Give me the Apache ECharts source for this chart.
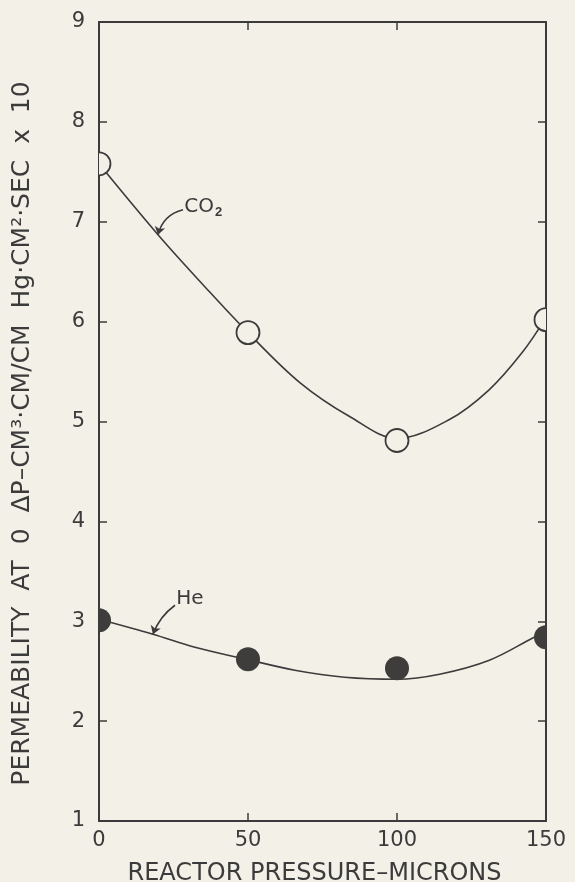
<!DOCTYPE html>
<html>
<head>
<meta charset="utf-8">
<script src="https://cdn.jsdelivr.net/npm/echarts@6/dist/echarts.min.js"></script>
<style>
  html, body { margin: 0; padding: 0; background: #f3f0e7; }
  #chart { width: 575px; height: 882px; }
</style>
</head>
<body>
<div id="chart"></div>
<script>
// Measured permeability at each reactor pressure (microns)
const pressure = [0, 50, 100, 150];
const co2Values = [7.58, 5.89, 4.81, 6.02];
const heValues = [3.01, 2.62, 2.53, 2.84];

// Hand-drawn fitted curves
const co2CurveX = [0, 19.8, 35.5, 50, 67.4, 84.1, 100, 117.6, 131, 142, 150];
const co2CurveY = [7.58, 6.87, 6.35, 5.89, 5.39, 5.05, 4.83, 5.02, 5.32, 5.69, 6.04];
const heCurveX = [0, 18.1, 32.2, 49.3, 65.7, 82.4, 100, 114.3, 131, 145.4, 150];
const heCurveY = [3.02, 2.87, 2.74, 2.62, 2.51, 2.44, 2.42, 2.47, 2.61, 2.83, 2.90];

// Axis ticks
const xTicks = [0, 50, 100, 150];
const yTicks = [1, 2, 3, 4, 5, 6, 7, 8, 9];

// Curve labels: text anchor and arrow (start -> tip) in data units
const co2Label = { text: 'CO{sub|2}', at: [28.6, 7.15], arrow: [[28.2, 7.12], [19.8, 6.87]] };
const heLabel = { text: 'He', at: [25.9, 3.22], arrow: [[25.5, 3.16], [18.1, 2.87]] };

const ink = '#3b3b3b';
const dot = '#3f3d3b';
const paper = '#f3f0e7';
const font = 'DejaVu Sans';

const zip = (xs, ys) => xs.map((x, i) => [x, ys[i]]);

const frameAxis = {
  axisLine: { show: true, onZero: false, lineStyle: { color: ink, width: 2 } },
  axisTick: { show: true, inside: true, length: 8, lineStyle: { color: ink, width: 1.5 } },
  splitLine: { show: false }
};

// Circle markers, cut off at the plot frame like the drawn originals
const markerSeries = (name, values, r, fill, stroke, lineWidth) => ({
  name, type: 'custom', data: zip(pressure, values), clip: true, z: 5,
  renderItem: (params, api) => {
    const p = api.coord([api.value(0), api.value(1)]);
    return {
      type: 'circle',
      shape: { cx: p[0], cy: p[1], r },
      style: { fill, stroke, lineWidth }
    };
  }
});

const chart = echarts.init(document.getElementById('chart'));
chart.setOption({
  backgroundColor: paper,
  animation: false,
  textStyle: { fontFamily: font, color: ink },
  grid: { left: 99, top: 22, right: 29, bottom: 61, containLabel: false, outerBoundsMode: 'none' },
  xAxis: [
    Object.assign({
      type: 'value', min: xTicks[0], max: xTicks[xTicks.length - 1], interval: 50,
      position: 'bottom',
      name: 'REACTOR PRESSURE\u2013MICRONS',
      nameLocation: 'middle', nameGap: 41,
      nameTextStyle: { fontSize: 24, color: ink, fontFamily: font, padding: [0, 16, 0, 0] },
      axisLabel: { fontSize: 21, color: ink, margin: 9, fontFamily: font }
    }, frameAxis),
    Object.assign({
      type: 'value', min: xTicks[0], max: xTicks[xTicks.length - 1], interval: 50,
      position: 'top', axisLabel: { show: false }
    }, frameAxis)
  ],
  yAxis: [
    Object.assign({
      type: 'value', min: yTicks[0], max: yTicks[yTicks.length - 1], interval: 1,
      position: 'left',
      name: 'PERMEABILITY  AT  0  \u0394P\u2013CM\u00B3\u00B7CM/CM  Hg\u00B7CM\u00B2\u00B7SEC  x  10',
      nameLocation: 'middle', nameGap: 64,
      nameTextStyle: { fontSize: 25, color: ink, fontFamily: font, padding: [0, 24, 0, 0] },
      axisLabel: { fontSize: 21, color: ink, margin: 14, fontFamily: font }
    }, frameAxis),
    Object.assign({
      type: 'value', min: yTicks[0], max: yTicks[yTicks.length - 1], interval: 1,
      position: 'right', axisLabel: { show: false }
    }, frameAxis)
  ],
  series: [
    {
      name: 'CO2 curve', type: 'line', data: zip(co2CurveX, co2CurveY),
      smooth: 0.35, showSymbol: false, z: 2,
      lineStyle: { color: ink, width: 1.6 }
    },
    {
      name: 'He curve', type: 'line', data: zip(heCurveX, heCurveY),
      smooth: 0.35, showSymbol: false, z: 2,
      lineStyle: { color: ink, width: 1.6 }
    },
    markerSeries('CO2', co2Values, 11.5, paper, ink, 1.8),
    markerSeries('He', heValues, 12, dot, null, 0),
    {
      name: 'arrows', type: 'lines', coordinateSystem: 'cartesian2d', z: 4,
      symbol: ['none', 'arrow'], symbolSize: [0, 8],
      lineStyle: { color: ink, width: 1.6, curveness: -0.3, opacity: 1 },
      data: [
        { coords: co2Label.arrow },
        { coords: heLabel.arrow, lineStyle: { curveness: -0.15 } }
      ]
    }
  ]
});

// Curve name tags, placed at their data-space anchors
const tag = (lbl) => {
  const [px, py] = chart.convertToPixel({ xAxisIndex: 0, yAxisIndex: 0 }, lbl.at);
  return {
    type: 'text', x: px, y: py, z: 10,
    style: {
      text: lbl.text, fill: ink, font: '20px "DejaVu Sans"',
      verticalAlign: 'middle', align: 'left',
      rich: { sub: { fontSize: 13, fontWeight: 'bold', fill: ink, padding: [12, 0, 0, 1] } }
    }
  };
};
chart.setOption({ graphic: [tag(co2Label), tag(heLabel)] });
</script>
</body>
</html>
